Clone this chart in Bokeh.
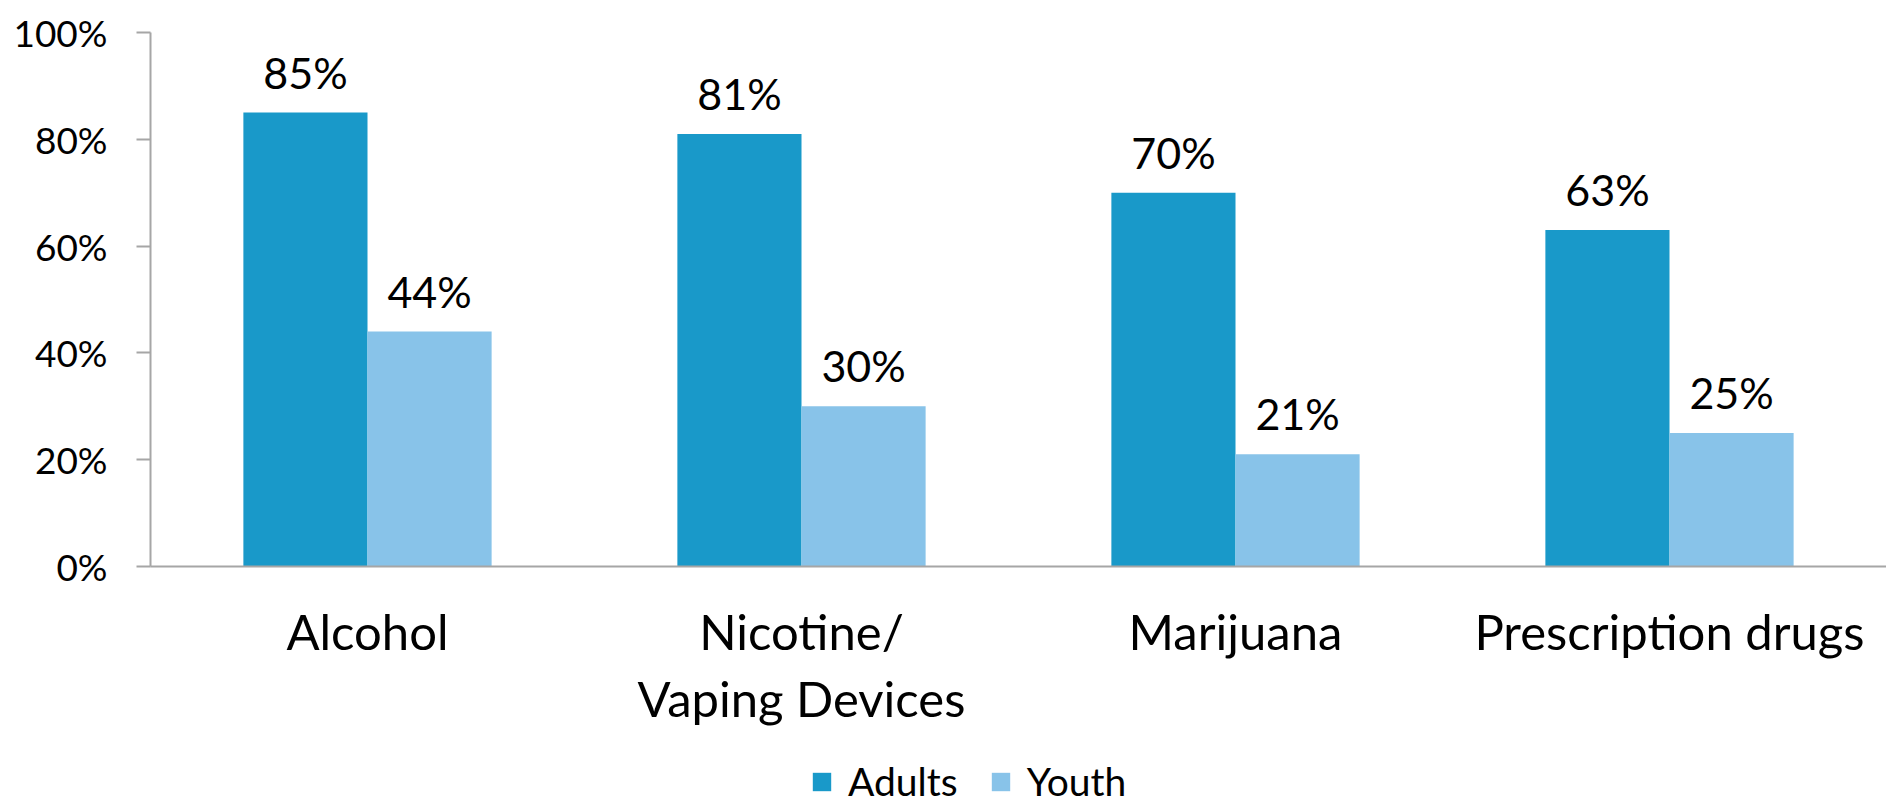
from bokeh.plotting import figure
from bokeh.models import ColumnDataSource, FactorRange, Range1d, LabelSet, PrintfTickFormatter, FixedTicker, Legend, LegendItem
from bokeh.layouts import column
from bokeh.transform import dodge
from bokeh.core.properties import value
from bokeh.embed import file_html
from bokeh.resources import INLINE

categories = ["Alcohol", "Nicotine/\nVaping Devices", "Marijuana", "Prescription drugs"]
adults = [85, 81, 70, 63]
youth = [44, 30, 21, 25]
series_names = ["Adults", "Youth"]
y_ticks = [0, 20, 40, 60, 80, 100]

ADULT_C = "#1999C9"
YOUTH_C = "#88C3E9"
FONT = "Lato"

src = ColumnDataSource(dict(
    cat=categories,
    adults=adults,
    youth=youth,
    adults_lbl=[f"{v}%" for v in adults],
    youth_lbl=[f"{v}%" for v in youth],
))

p = figure(width=1886, height=740, x_range=FactorRange(*categories), y_range=Range1d(0, 100),
           output_backend="svg", toolbar_location=None,
           min_border_left=150, min_border_right=0, min_border_top=32, min_border_bottom=174)
p.outline_line_color = None
p.xgrid.grid_line_color = None
p.ygrid.grid_line_color = None
p.x_range.range_padding = 0

bw = 0.286
r1 = p.vbar(x=dodge("cat", -bw / 2, range=p.x_range), top="adults", width=bw, source=src,
            fill_color=ADULT_C, line_color=None)
r2 = p.vbar(x=dodge("cat", bw / 2, range=p.x_range), top="youth", width=bw, source=src,
            fill_color=YOUTH_C, line_color=None)

for col, off in (("adults", -bw / 2), ("youth", bw / 2)):
    p.add_layout(LabelSet(x=dodge("cat", off, range=p.x_range), y=col, text=col + "_lbl", source=src,
                          y_offset=24, text_align="center", text_baseline="alphabetic",
                          text_font=value(FONT), text_font_size=value("43px"), text_color=value("black")))

# y axis
ya = p.yaxis[0]
ya.ticker = FixedTicker(ticks=y_ticks)
ya.formatter = PrintfTickFormatter(format="%d%%")
ya.axis_line_color = "#A6A6A6"
ya.axis_line_width = 2
ya.major_tick_line_color = "#A6A6A6"
ya.major_tick_line_width = 2
ya.major_tick_out = 14
ya.major_tick_in = 0
ya.minor_tick_line_color = None
ya.major_label_standoff = 29
ya.major_label_text_font = FONT
ya.major_label_text_font_size = "37px"
ya.major_label_text_color = "black"

# x axis
xa = p.xaxis[0]
xa.axis_line_color = "#A6A6A6"
xa.axis_line_width = 2
xa.major_tick_line_color = None
xa.minor_tick_line_color = None
xa.major_tick_out = 0
xa.major_tick_in = 0
xa.major_label_standoff = 35
xa.major_label_text_font = FONT
xa.major_label_text_font_size = "49px"
xa.major_label_text_color = "black"
xa.major_label_text_line_height = 1.16

# legend strip below the chart (swatch glyphs sit outside the strip's range, only the legend shows)
lg = figure(width=1886, height=58, x_range=Range1d(0, 1), y_range=Range1d(0, 1),
            output_backend="svg", toolbar_location=None, x_axis_type=None, y_axis_type=None,
            min_border=0)
lg.outline_line_color = None
lg.xgrid.grid_line_color = None
lg.ygrid.grid_line_color = None
d1 = lg.vbar(x=[5], top=[1], width=0.1, fill_color=ADULT_C, line_color=None)
d2 = lg.vbar(x=[5], top=[1], width=0.1, fill_color=YOUTH_C, line_color=None)
legend = Legend(items=[LegendItem(label=series_names[0], renderers=[d1]),
                       LegendItem(label=series_names[1], renderers=[d2])],
                location=(660, -6), orientation="horizontal",
                glyph_width=23, glyph_height=23, label_height=23,
                label_standoff=15, spacing=31, padding=0, margin=0,
                label_text_font=FONT, label_text_font_size="39px", label_text_color="black",
                border_line_color=None, background_fill_alpha=0)
lg.add_layout(legend, "center")

layout = column(p, lg, spacing=0)
open("out.html", "w").write(file_html(layout, INLINE))
